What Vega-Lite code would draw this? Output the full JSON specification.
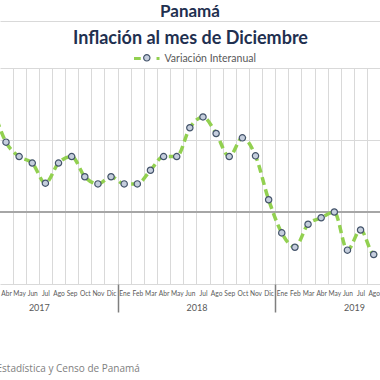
{
  "$schema": "https://vega.github.io/schema/vega-lite/v6.json",
  "width": 380,
  "height": 216,
  "autosize": "none",
  "padding": {"left": 0, "top": 68, "right": 0, "bottom": 96},
  "background": "white",
  "config": {"view": {"stroke": null}, "font": "Lato"},
  "title": {"text": "Panamá", "anchor": "middle", "fontSize": 17, "font": "Lato", "fontWeight": "bold", "color": "#1F3050", "offset": 3, "dy": 16, "baseline": "alphabetic"},
  "data": {"values": [
    {"mes": "Mar", "anio": 2017, "i": 2, "valor": 1.45},
    {"mes": "Abr", "anio": 2017, "i": 3, "valor": 0.97},
    {"mes": "May", "anio": 2017, "i": 4, "valor": 0.77},
    {"mes": "Jun", "anio": 2017, "i": 5, "valor": 0.68},
    {"mes": "Jul", "anio": 2017, "i": 6, "valor": 0.40},
    {"mes": "Ago", "anio": 2017, "i": 7, "valor": 0.68},
    {"mes": "Sep", "anio": 2017, "i": 8, "valor": 0.77},
    {"mes": "Oct", "anio": 2017, "i": 9, "valor": 0.49},
    {"mes": "Nov", "anio": 2017, "i": 10, "valor": 0.39},
    {"mes": "Dic", "anio": 2017, "i": 11, "valor": 0.49},
    {"mes": "Ene", "anio": 2018, "i": 12, "valor": 0.39},
    {"mes": "Feb", "anio": 2018, "i": 13, "valor": 0.39},
    {"mes": "Mar", "anio": 2018, "i": 14, "valor": 0.58},
    {"mes": "Abr", "anio": 2018, "i": 15, "valor": 0.77},
    {"mes": "May", "anio": 2018, "i": 16, "valor": 0.77},
    {"mes": "Jun", "anio": 2018, "i": 17, "valor": 1.17},
    {"mes": "Jul", "anio": 2018, "i": 18, "valor": 1.32},
    {"mes": "Ago", "anio": 2018, "i": 19, "valor": 1.09},
    {"mes": "Sep", "anio": 2018, "i": 20, "valor": 0.77},
    {"mes": "Oct", "anio": 2018, "i": 21, "valor": 1.03},
    {"mes": "Nov", "anio": 2018, "i": 22, "valor": 0.78},
    {"mes": "Dic", "anio": 2018, "i": 23, "valor": 0.17},
    {"mes": "Ene", "anio": 2019, "i": 24, "valor": -0.29},
    {"mes": "Feb", "anio": 2019, "i": 25, "valor": -0.49},
    {"mes": "Mar", "anio": 2019, "i": 26, "valor": -0.17},
    {"mes": "Abr", "anio": 2019, "i": 27, "valor": -0.08},
    {"mes": "May", "anio": 2019, "i": 28, "valor": 0.0},
    {"mes": "Jun", "anio": 2019, "i": 29, "valor": -0.53},
    {"mes": "Jul", "anio": 2019, "i": 30, "valor": -0.25},
    {"mes": "Ago", "anio": 2019, "i": 31, "valor": -0.59},
    {"mes": "Sep", "anio": 2019, "i": 32, "valor": -0.62}
  ]},
  "resolve": {"axis": {"x": "independent"}, "legend": {"color": "independent", "fill": "independent"}},
  "layer": [
    {
      "mark": {"type": "point", "opacity": 0},
      "encoding": {
        "x": {"field": "i", "type": "quantitative", "scale": {"domain": [2.543, 31.48], "nice": false, "zero": false},
          "axis": {"orient": "bottom", "values": [2.5,3.5,4.5,5.5,6.5,7.5,8.5,9.5,10.5,11.5,12.5,13.5,14.5,15.5,16.5,17.5,18.5,19.5,20.5,21.5,22.5,23.5,24.5,25.5,26.5,27.5,28.5,29.5,30.5,31.5], "grid": true, "gridColor": "#D9D9D9", "gridWidth": 1, "labels": false, "ticks": false, "domain": false, "title": null}},
        "y": {"field": "valor", "type": "quantitative", "scale": {"domain": [-1, 2], "nice": false},
          "axis": {"values": [-1, -0.5, 0, 0.5, 1, 1.5, 2], "grid": true, "gridColor": "#D9D9D9", "gridWidth": 1, "labels": false, "ticks": false, "domain": false, "title": null}}
      }
    },
    {
      "mark": {"type": "rule", "color": "#A6A6A6", "strokeWidth": 2},
      "encoding": {"y": {"datum": 0}}
    },
    {
      "mark": {"type": "line", "interpolate": "monotone", "strokeWidth": 3.5, "strokeDash": [8, 4.5]},
      "encoding": {
        "x": {"field": "i", "type": "quantitative",
          "axis": {"orient": "bottom", "values": [2,3,4,5,6,7,8,9,10,11,12,13,14,15,16,17,18,19,20,21,22,23,24,25,26,27,28,29,30,31,32],
            "labelExpr": "['Ene','Feb','Mar','Abr','May','Jun','Jul','Ago','Sep','Oct','Nov','Dic'][datum.value % 12]",
            "labelFlush": false, "labelOverlap": false, "labelFontSize": 6.6, "labelColor": "#595959", "labelPadding": 6,
            "grid": false, "ticks": false, "domain": false,
            "title": "Estadística y Censo de Panamá", "titleAnchor": "start", "titleAlign": "left", "titleBaseline": "alphabetic", "titleX": -4, "titleY": 87,
            "titleFont": "Open Sans", "titleFontSize": 10, "titleFontWeight": "normal", "titleColor": "#808080"}},
        "y": {"field": "valor", "type": "quantitative"},
        "color": {"datum": "Variación Interanual", "type": "nominal", "scale": {"range": ["#92D050"]},
          "legend": {"orient": "none", "legendX": 132.5, "legendY": -24.5, "title": null, "symbolType": "M-1,0H-0.5M0.67,0H0.89", "symbolSize": 729, "symbolStrokeWidth": 3, "symbolDash": [1000, 0], "labelFontSize": 10.5, "labelColor": "#595959", "labelOffset": 2, "padding": 0}}
      }
    },
    {
      "mark": {"type": "point", "filled": true, "size": 40, "stroke": "#44546A", "strokeWidth": 1.2, "opacity": 1},
      "encoding": {
        "x": {"field": "i", "type": "quantitative", "axis": null},
        "y": {"field": "valor", "type": "quantitative"},
        "fill": {"datum": "Variación Interanual", "type": "nominal", "scale": {"range": ["#C5CEDD"]},
          "legend": {"orient": "none", "legendX": 142.8, "legendY": -14.15, "title": null, "symbolType": "circle", "symbolSize": 40, "symbolStrokeColor": "#44546A", "symbolStrokeWidth": 1.2, "labelOpacity": 0, "labelFontSize": 1, "padding": 0}}
      }
    },
    {
      "mark": {"type": "point", "opacity": 0},
      "encoding": {
        "x": {"field": "i", "type": "quantitative",
          "axis": {"orient": "bottom", "values": [5.5, 17.5, 29.5], "labelExpr": "datum.value < 12 ? '2017' : (datum.value < 24 ? '2018' : '2019')",
            "labelFlush": false, "labelOverlap": false, "labelFontSize": 9, "labelColor": "#595959", "labelPadding": 19,
            "grid": false, "ticks": false, "domain": false, "title": null}}
      }
    },
    {
      "mark": {"type": "point", "opacity": 0},
      "encoding": {
        "x": {"field": "i", "type": "quantitative",
          "axis": {"orient": "bottom", "values": [11.5, 23.5], "labels": false, "ticks": true, "tickSize": 28, "tickColor": "#7F7F7F", "tickWidth": 1.5,
            "grid": false, "domain": false, "title": null}}
      }
    },
    {
      "mark": {"type": "point", "opacity": 0},
      "encoding": {
        "x": {"field": "i", "type": "quantitative",
          "axis": {"orient": "top", "offset": 47, "labels": false, "ticks": false, "grid": false, "domain": true, "domainColor": "#D9D9D9", "domainWidth": 1,
            "title": "Inflación al mes de Diciembre", "titleFont": "Lato", "titleFontSize": 18, "titleFontWeight": "bold", "titleColor": "#1F3050",
            "titleBaseline": "alphabetic", "titleY": 22}}
      }
    }
  ]
}
